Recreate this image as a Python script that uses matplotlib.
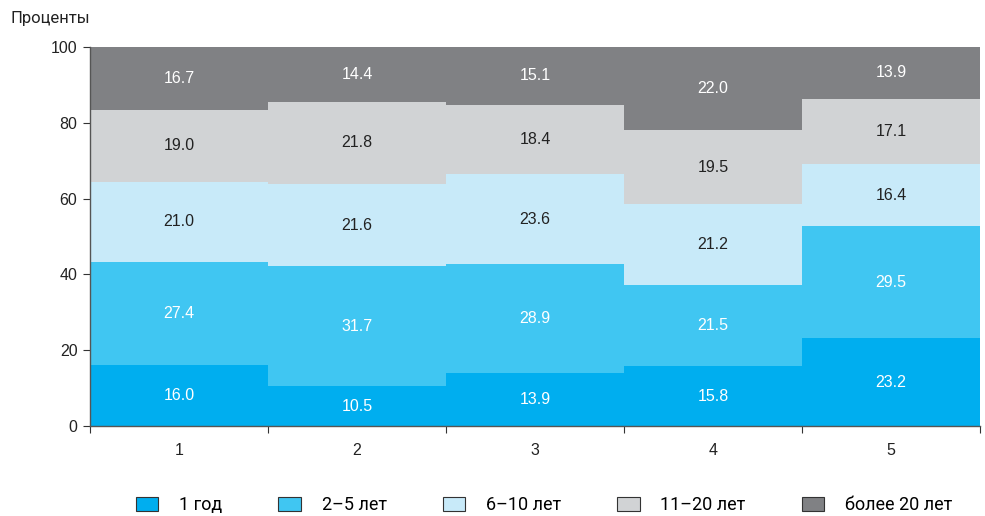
import matplotlib
matplotlib.use("Agg")
import matplotlib.pyplot as plt
from matplotlib.patches import Patch
import numpy as np

categories = ["1", "2", "3", "4", "5"]
series_names = ["1 год", "2–5 лет", "6–10 лет", "11–20 лет", "более 20 лет"]
s1 = [16.0, 10.5, 13.9, 15.8, 23.2]
s2 = [27.4, 31.7, 28.9, 21.5, 29.5]
s3 = [21.0, 21.6, 23.6, 21.2, 16.4]
s4 = [19.0, 21.8, 18.4, 19.5, 17.1]
s5 = [16.7, 14.4, 15.1, 22.0, 13.9]
series = [s1, s2, s3, s4, s5]
colors = ["#00AEEF", "#40C6F2", "#C8EAF9", "#D1D3D5", "#808184"]
text_colors = ["white", "white", "#222222", "#222222", "white"]

fig = plt.figure(figsize=(9.85, 5.16), dpi=100)
ax = fig.add_axes([90/985, 1-426/516, (980-90)/985, (426-47)/516])

x = np.arange(len(categories))
bottom = np.zeros(len(categories))
for vals, c, tc in zip(series, colors, text_colors):
    vals = np.array(vals)
    ax.bar(x, vals, width=1.0, bottom=bottom, color=c, edgecolor="none", align="center")
    for xi, v, b in zip(x, vals, bottom):
        ax.text(xi, b + v/2, f"{v:.1f}", ha="center", va="center", color=tc, fontsize=11.5,
                family="Liberation Sans")
    bottom += vals

ax.set_xlim(-0.5, len(categories) - 0.5)
ax.set_ylim(0, 100)
ax.set_yticks([0, 20, 40, 60, 80, 100])
ax.set_xticks(np.arange(-0.5, len(categories), 1.0))
ax.set_xticklabels([])
ax.set_xticks(x, minor=True)
ax.set_xticklabels(categories, minor=True)
ax.tick_params(axis="x", which="minor", length=0, pad=12, labelsize=11.5)
ax.tick_params(axis="x", which="major", length=5, color="#333333", direction="out")
ax.tick_params(axis="y", length=5, color="#333333", labelsize=11.5, pad=4)
for lab in ax.get_xticklabels(minor=True) + ax.get_yticklabels():
    lab.set_family("Liberation Sans")
    lab.set_color("#222222")
for s in ["top", "right"]:
    ax.spines[s].set_visible(False)
for s in ["left", "bottom"]:
    ax.spines[s].set_color("#555555")
    ax.spines[s].set_linewidth(1.0)

fig.text(10/985, 1-18/516, "Проценты", ha="left", va="center", fontsize=12,
         family="Roboto", color="#222222")

handles = [Patch(facecolor=c, edgecolor="#333333", linewidth=0.8) for c in colors]
fig.legend(handles, series_names, loc="center", bbox_to_anchor=(544/985, 1-505/516), ncol=5,
           frameon=False, handlelength=1.25, handleheight=0.85, columnspacing=3.1, handletextpad=1.15,
           prop={"family": "Roboto", "size": 13})

fig.savefig("out.png", dpi=100)
